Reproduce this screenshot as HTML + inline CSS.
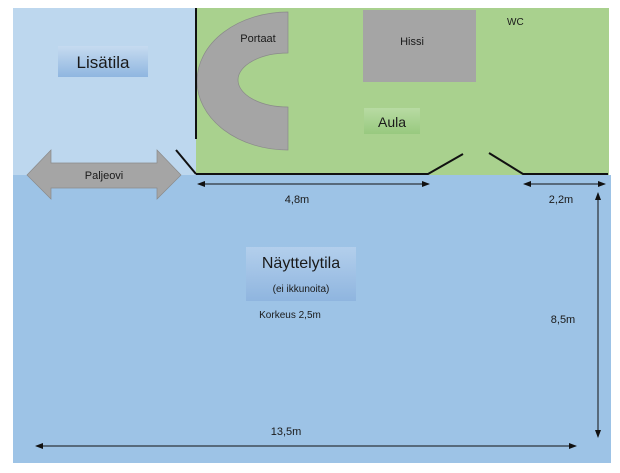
<!DOCTYPE html>
<html><head><meta charset="utf-8"><style>
body{margin:0;background:#fff}
svg{display:block}
text{font-family:"Liberation Sans",sans-serif;fill:#1a1a1a}
</style></head><body>
<svg width="620" height="473" viewBox="0 0 620 473">
<defs>
<marker id="a" markerWidth="8" markerHeight="6" refX="7" refY="3" orient="auto-start-reverse" markerUnits="userSpaceOnUse"><path d="M0,0L8,3L0,6z" fill="#111"/></marker>
<linearGradient id="g1" x1="0" y1="0" x2="0" y2="1"><stop offset="0" stop-color="#c6dbf0"/><stop offset="1" stop-color="#8fb6e0"/></linearGradient>
<linearGradient id="g2" x1="0" y1="0" x2="0" y2="1"><stop offset="0" stop-color="#b8dba3"/><stop offset="1" stop-color="#98c97f"/></linearGradient>
<linearGradient id="g3" x1="0" y1="0" x2="0" y2="1"><stop offset="0" stop-color="#b3cfec"/><stop offset="1" stop-color="#8fb5df"/></linearGradient>
</defs>
<rect x="13" y="8" width="184" height="167" fill="#bdd7ee"/>
<rect x="196" y="8" width="413" height="167" fill="#a9d18e"/>
<rect x="13" y="175" width="598" height="288" fill="#9dc3e6"/>
<rect x="58" y="46" width="90" height="31" fill="url(#g1)"/>
<text x="103" y="68" font-size="17" text-anchor="middle">Lisätila</text>
<path d="M288,12 A91,69 0 0 0 288,150 L288,107 A50,27 0 0 1 288,53 Z" fill="#a5a5a5" stroke="#8a8a8a" stroke-width="0.7"/>
<text x="258" y="42" font-size="11" text-anchor="middle">Portaat</text>
<rect x="363" y="10" width="113" height="72" fill="#a5a5a5"/>
<text x="412" y="45" font-size="11" text-anchor="middle">Hissi</text>
<text x="507" y="25" font-size="10">WC</text>
<rect x="364" y="108" width="56" height="26" fill="url(#g2)"/>
<text x="392" y="127" font-size="14" text-anchor="middle">Aula</text>
<path d="M27,175 L51,150 L51,163 L157,163 L157,150 L181,175 L157,199 L157,188 L51,188 L51,199 Z" fill="#a5a5a5" stroke="#8a8a8a" stroke-width="0.7"/>
<text x="104" y="179" font-size="11" text-anchor="middle">Paljeovi</text>
<g stroke="#111" stroke-width="2" fill="none">
<line x1="196" y1="8" x2="196" y2="139"/>
<line x1="176" y1="150" x2="196" y2="174"/>
<polyline points="196,174 428,174 463,154"/>
<polyline points="489,153 523,174 608,174"/>
</g>
<g stroke="#111" stroke-width="1" fill="none">
<line x1="198" y1="184" x2="429" y2="184" marker-start="url(#a)" marker-end="url(#a)"/>
<line x1="524" y1="184" x2="605" y2="184" marker-start="url(#a)" marker-end="url(#a)"/>
<line x1="598" y1="193" x2="598" y2="437" marker-start="url(#a)" marker-end="url(#a)"/>
<line x1="36" y1="446" x2="576" y2="446" marker-start="url(#a)" marker-end="url(#a)"/>
</g>
<text x="297" y="203" font-size="11" text-anchor="middle">4,8m</text>
<text x="561" y="203" font-size="11" text-anchor="middle">2,2m</text>
<text x="563" y="323" font-size="11" text-anchor="middle">8,5m</text>
<text x="286" y="435" font-size="11" text-anchor="middle">13,5m</text>
<rect x="246" y="247" width="110" height="54" fill="url(#g3)"/>
<text x="301" y="268" font-size="16" text-anchor="middle">Näyttelytila</text>
<text x="301" y="292" font-size="10" text-anchor="middle">(ei ikkunoita)</text>
<text x="290" y="318" font-size="10" text-anchor="middle">Korkeus 2,5m</text>
</svg>
</body></html>
